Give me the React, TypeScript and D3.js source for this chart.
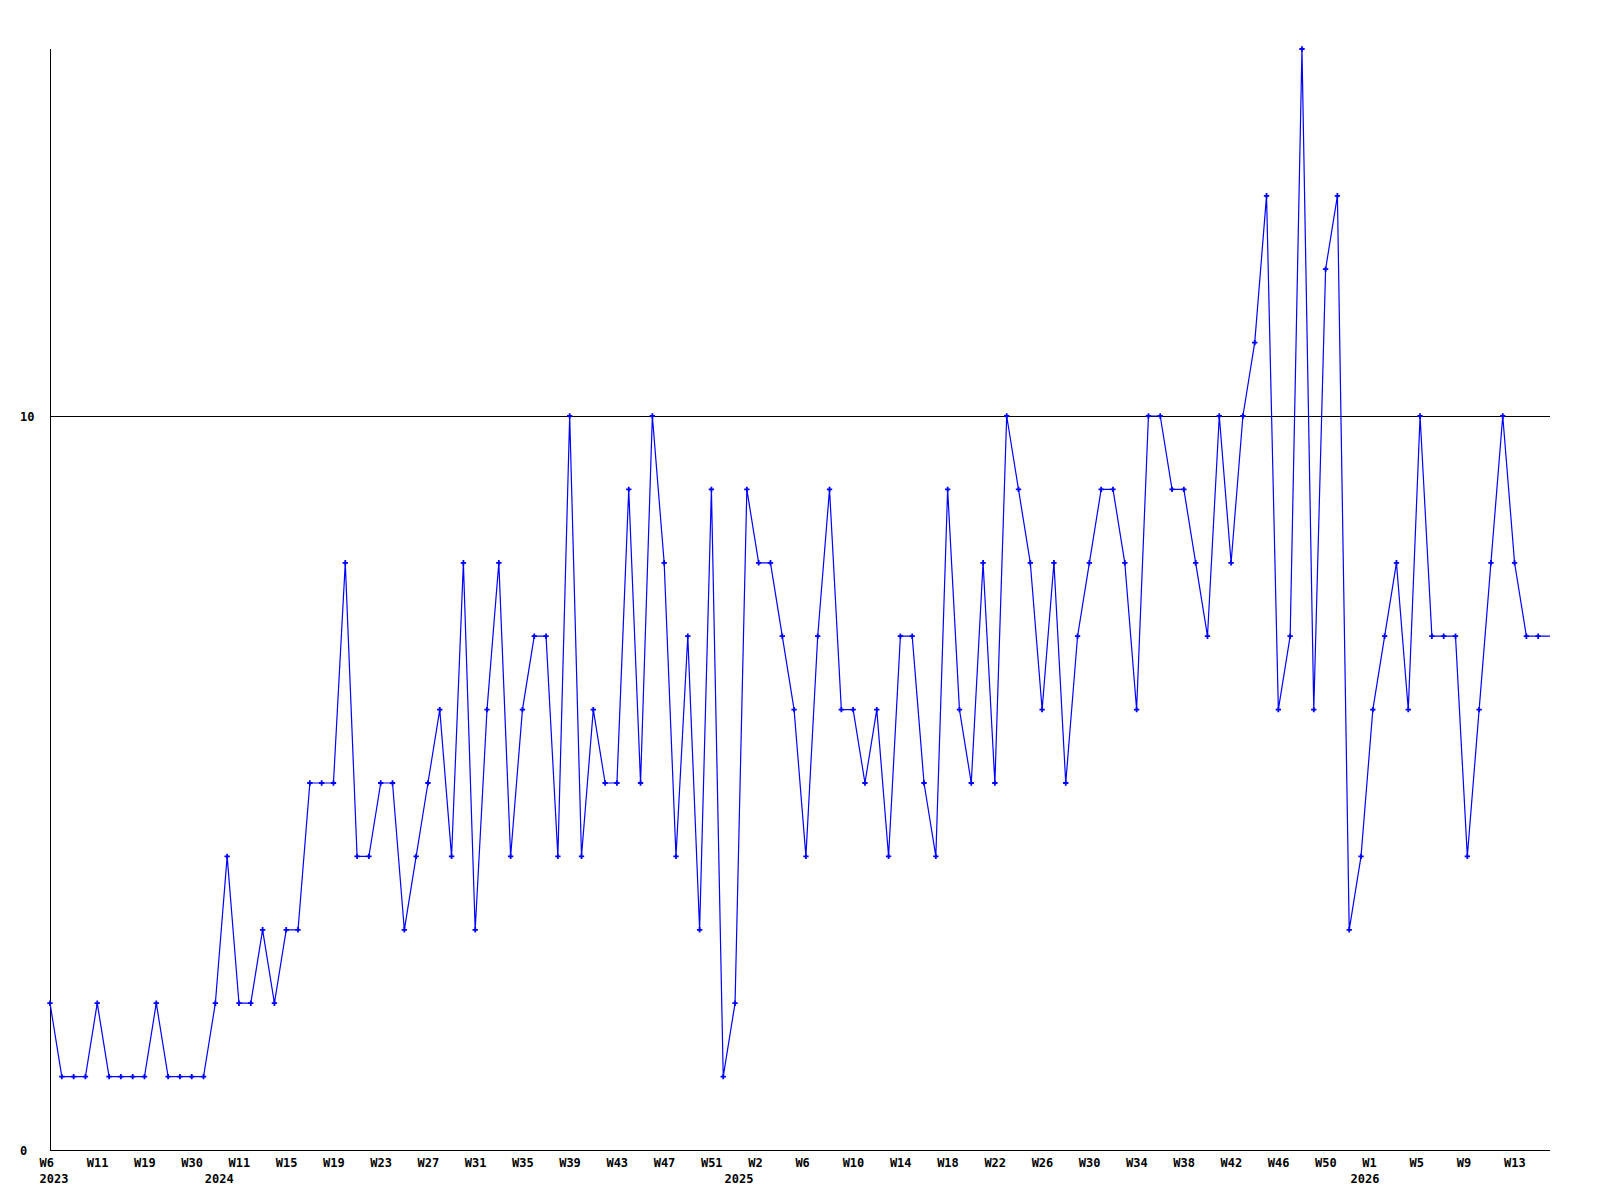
import React from "react";
import * as d3 from "d3";

// Weekly counts, one per point (index 0 = 2023 W6)
const values: number[] = [
  2, 1, 1, 1, 2, 1, 1, 1, 1, 2,
  1, 1, 1, 1, 2, 4, 2, 2, 3, 2,
  3, 3, 5, 5, 5, 8, 4, 4, 5, 5,
  3, 4, 5, 6, 4, 8, 3, 6, 8, 4,
  6, 7, 7, 4, 10, 4, 6, 5, 5, 9,
  5, 10, 8, 4, 7, 3, 9, 1, 2, 9,
  8, 8, 7, 6, 4, 7, 9, 6, 6, 5,
  6, 4, 7, 7, 5, 4, 9, 6, 5, 8,
  5, 10, 9, 8, 6, 8, 5, 7, 8, 9,
  9, 8, 6, 10, 10, 9, 9, 8, 7, 10,
  8, 10, 11, 13, 6, 7, 15, 6, 12, 13,
  3, 4, 6, 7, 8, 6, 10, 7, 7, 7,
  4, 6, 8, 10, 8, 7, 7,
];

// Week tick labels (point index, label)
const weekTickIndex: number[] = [
  0, 4, 8, 12, 16, 20, 24, 28, 32, 36, 40, 44, 48, 52, 56, 60,
  64, 68, 72, 76, 80, 84, 88, 92, 96, 100, 104, 108, 112, 116, 120, 124,
];
const weekTickLabels: string[] = [
  "W6", "W11", "W19", "W30", "W11", "W15", "W19", "W23", "W27", "W31", "W35",
  "W39", "W43", "W47", "W51", "W2", "W6", "W10", "W14", "W18", "W22", "W26",
  "W30", "W34", "W38", "W42", "W46", "W50", "W1", "W5", "W9", "W13",
];

// Year labels at first point of each year
const yearIndex: number[] = [0, 14, 58, 111];
const yearLabels: string[] = ["2023", "2024", "2025", "2026"];

// Y axis labels
const yTicks: number[] = [0, 10];
const yMax = 15;

const W = 1600;
const H = 1200;
const left = 50;
const right = 1550;
const top = 49;
const bottom = 1150;

const FONT = "'DejaVu Sans Mono', 'Liberation Mono', monospace";
const FS = 12;

export default function App() {
  const x = d3.scaleLinear().domain([0, values.length]).range([left, right]);
  const y = d3.scaleLinear().domain([0, yMax]).range([bottom, top]);

  const pts: [number, number][] = values.map((v, i) => [i, v]);
  const extended: [number, number][] = [...pts, [values.length, values[values.length - 1]]];

  const line = d3
    .line<[number, number]>()
    .x((d) => x(d[0]))
    .y((d) => y(d[1]));

  const marker = d3.symbol().type(d3.symbolCross).size(16)() as string;

  return (
    <div style={{ position: "absolute", left: 0, top: 0 }}>
      <svg width={W} height={H} style={{ display: "block", background: "#fff" }}>
        <rect x={0} y={0} width={W} height={H} fill="#fff" />
        {/* reference line at 10 */}
        <line
          x1={left}
          x2={right}
          y1={Math.round(y(10)) + 0.5}
          y2={Math.round(y(10)) + 0.5}
          stroke="#000"
          strokeWidth={1}
        />
        {/* axes */}
        <line x1={left + 0.5} x2={left + 0.5} y1={top} y2={bottom} stroke="#000" strokeWidth={1} />
        <line x1={left} x2={right} y1={bottom + 0.5} y2={bottom + 0.5} stroke="#000" strokeWidth={1} />

        {/* series */}
        <path d={line(extended) || ""} fill="none" stroke="#0000ff" strokeWidth={1.2} />
        {pts.map((d, i) => (
          <path
            key={i}
            d={marker}
            transform={`translate(${x(d[0])},${y(d[1])})`}
            fill="#0000ff"
          />
        ))}

        {/* y labels */}
        {yTicks.map((t) => (
          <text
            key={t}
            x={20}
            y={y(t) + 4.5}
            fontFamily={FONT}
            fontWeight="bold"
            fontSize={FS}
            fill="#000"
          >
            {t}
          </text>
        ))}

        {/* week labels */}
        {weekTickIndex.map((idx, i) => (
          <text
            key={i}
            x={x(idx) - 10.5}
            y={bottom + 17}
            fontFamily={FONT}
            fontWeight="bold"
            fontSize={FS}
            fill="#000"
          >
            {weekTickLabels[i]}
          </text>
        ))}

        {/* year labels */}
        {yearIndex.map((idx, i) => (
          <text
            key={i}
            x={x(idx) - 10.5}
            y={bottom + 32.5}
            fontFamily={FONT}
            fontWeight="bold"
            fontSize={FS}
            fill="#000"
          >
            {yearLabels[i]}
          </text>
        ))}
      </svg>
    </div>
  );
}
